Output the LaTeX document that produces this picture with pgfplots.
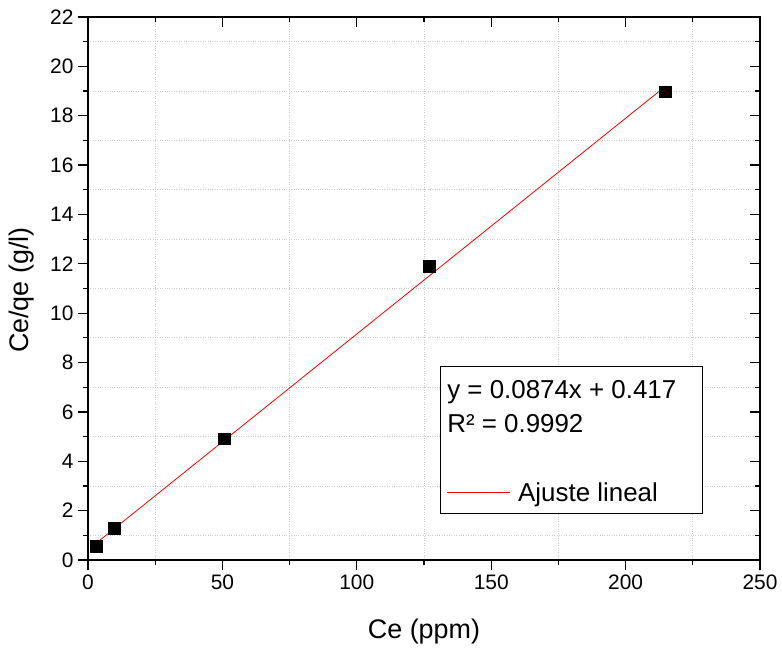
\documentclass[border=0pt]{standalone}
\usepackage{pgfplots}
\pgfplotsset{compat=1.18}
\usepackage{fontspec}
\setmainfont{Liberation Sans}
\begin{document}
\begin{tikzpicture}
\useasboundingbox (-88bp,-89bp) rectangle (694bp,560bp);
\pgfplotsset{
  common/.style={
    scale only axis, width=672bp, height=543bp,
    xmin=0, xmax=250, ymin=0, ymax=22,
    xtick={0,50,...,250}, ytick={0,2,...,22},
    minor x tick num=1, minor y tick num=1,
    major tick length=10bp, minor tick length=5bp,
    every tick/.style={black, line width=1.2bp},
    axis line style={line width=1.4bp},
    /pgf/number format/assume math mode=true,
  }
}
\begin{axis}[common,
  tick align=outside, tick pos=left,
  xmajorgrids=false, ymajorgrids=false,
  xminorgrids=true, yminorgrids=true,
  minor grid style={gray!40, dotted, line width=0.8bp},
  ticklabel style={font=\fontsize{21}{25}\selectfont},
  xticklabel style={yshift=-1bp},
  yticklabel style={xshift=-1bp},
  xlabel={Ce (ppm)}, ylabel={Ce/qe (g/l)},
  label style={font=\fontsize{27}{32}\selectfont},
  xlabel style={at={([yshift=-72bp]axis description cs:0.5,0)}, anchor=center},
  ylabel style={at={([xshift=-66bp]axis description cs:0,0.497)}, anchor=center},
]
\addplot[red, line width=0.8bp] coordinates {(3,0.679) (215,19.208)};
\addplot[only marks, mark=square*, mark size=5.8bp, black] coordinates {
  (3.0,0.57) (9.7,1.28) (50.6,4.92) (126.9,11.9) (214.7,18.97)};
\draw[black, line width=0.8bp, fill=white] (axis cs:130.95,7.86) rectangle (axis cs:228.42,1.904);
\node[anchor=base west, inner sep=0pt, font=\fontsize{26}{30}\selectfont] at (axis cs:133.6,6.563) {y = 0.0874x + 0.417};
\node[anchor=base west, inner sep=0pt, font=\fontsize{26}{30}\selectfont] at (axis cs:133.6,5.186) {R² = 0.9992};
\draw[red, line width=0.8bp] (axis cs:133.56,2.755) -- (axis cs:157.0,2.755);
\node[anchor=base west, inner sep=0pt, font=\fontsize{26}{30}\selectfont] at (axis cs:159.97,2.35) {Ajuste lineal};
\end{axis}
\begin{axis}[common,
  tick align=inside, tick pos=right,
  xticklabels={}, yticklabels={},
]
\end{axis}
\end{tikzpicture}
\end{document}
